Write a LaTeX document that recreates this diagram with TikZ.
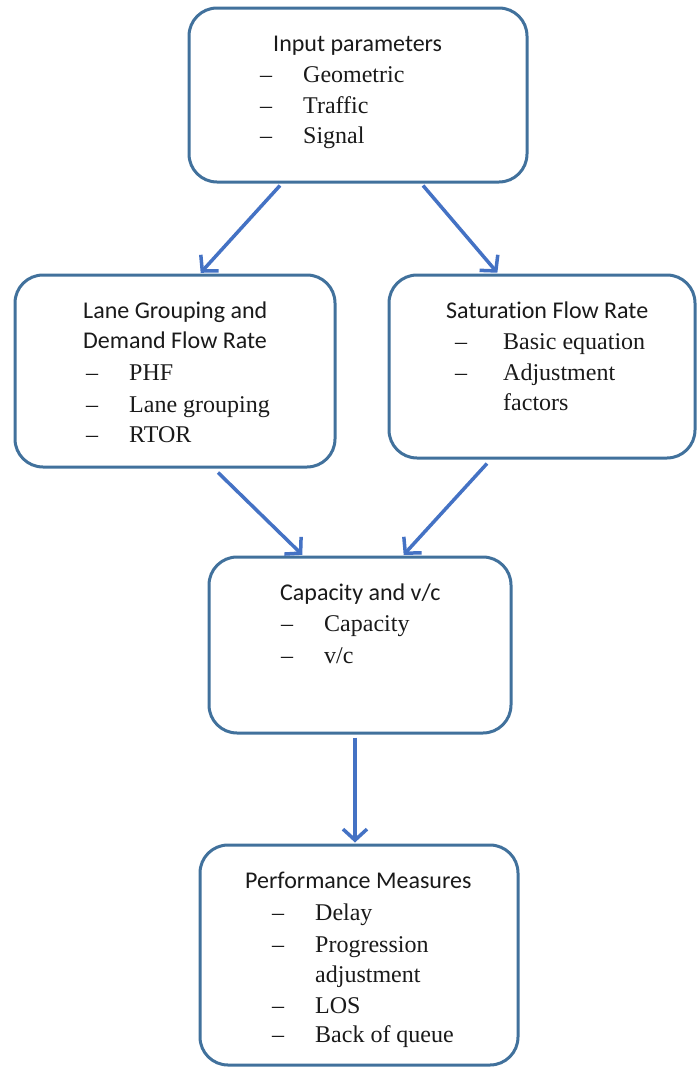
\documentclass[tikz,border=0pt]{standalone}
\usepackage{fontspec}
\setmainfont{Liberation Serif}
\newfontfamily\headfont[Ligatures=NoCommon]{Carlito}
\usetikzlibrary{arrows.meta}
\definecolor{boxblue}{HTML}{41719C}
\definecolor{arrowblue}{HTML}{4472C4}
\definecolor{textgray}{HTML}{1A1A1A}
% a dash followed by its entry, with a fixed tab after the dash
\newcommand\listentry[2][43pt]{\makebox[#1][l]{–}#2}
\begin{document}
\begin{tikzpicture}[x=1pt,y=-1pt,
  box/.style={draw=boxblue, line width=3pt, rounded corners=28pt, fill=white, inner sep=0pt},
  head/.style={anchor=base west, inner sep=0pt, text=textgray, font=\headfont\fontsize{24}{30}\selectfont},
  entry/.style={anchor=base west, inner sep=0pt, text=textgray, font=\fontsize{24}{30}\selectfont},
  flow/.style={draw=arrowblue, line width=3.5pt, shorten >=1pt,
    -{Straight Barb[length=11pt,width=24pt,line width=3.5pt]}}
]
\useasboundingbox (0,0) rectangle (697,1068);

% boxes
\node[box, minimum width=338pt, minimum height=174pt] (in)  at (358,95)    {};
\node[box, minimum width=320pt, minimum height=192pt] (lg)  at (175,371)   {};
\node[box, minimum width=306pt, minimum height=183pt] (sf)  at (542,366.5) {};
\node[box, minimum width=302pt, minimum height=176pt] (cap) at (360,645)   {};
\node[box, minimum width=318pt, minimum height=220pt] (pm)  at (359,955)   {};

% input parameters
\node[head]  (inH) at (273,51)  {Input parameters};
\node[entry] (in1) at (260,82)  {\listentry{Geometric}};
\node[entry] (in2) at (260,113) {\listentry{Traffic}};
\node[entry] (in3) at (260,143) {\listentry{Signal}};

% lane grouping and demand flow rate
\node[head]  (lgH1) at (83,318) {Lane Grouping and};
\node[head]  (lgH2) at (83,348) {Demand Flow Rate};
\node[entry] (lg1)  at (86,380) {\listentry{PHF}};
\node[entry] (lg2)  at (86,412) {\listentry{Lane grouping}};
\node[entry] (lg3)  at (86,442) {\listentry{RTOR}};

% saturation flow rate
\node[head]  (sfH) at (446,318) {Saturation Flow Rate};
\node[entry] (sf1) at (455,349) {\listentry[48pt]{Basic equation}};
\node[entry] (sf2) at (455,380) {\listentry[48pt]{Adjustment}};
\node[entry] (sf3) at (503,410) {factors};

% capacity and v/c
\node[head]  (capH) at (280,600) {Capacity and v/c};
\node[entry] (cap1) at (281,631) {\listentry{Capacity}};
\node[entry] (cap2) at (281,663) {\listentry{v/c}};

% performance measures
\node[head]  (pmH) at (245,888)  {Performance Measures};
\node[entry] (pm1) at (272,920)  {\listentry{Delay}};
\node[entry] (pm2) at (272,952)  {\listentry{Progression}};
\node[entry] (pm3) at (315,982)  {adjustment};
\node[entry] (pm4) at (272,1013) {\listentry{LOS}};
\node[entry] (pm5) at (272,1042) {\listentry{Back of queue}};

% connectors
\draw[flow] ([xshift=-78pt,yshift=-2pt]in.south)  -- ([xshift=25pt]lg.north);
\draw[flow] ([xshift=65pt,yshift=-2pt]in.south)   -- ([xshift=-44pt]sf.north);
\draw[flow] ([xshift=43pt,yshift=-4pt]lg.south)   -- ([xshift=-57pt]cap.north);
\draw[flow] ([xshift=-55pt,yshift=-4pt]sf.south)  -- ([xshift=43pt]cap.north);
\draw[flow] ([xshift=-5pt,yshift=-3pt]cap.south)  -- ([xshift=-4pt]pm.north);
\end{tikzpicture}
\end{document}
